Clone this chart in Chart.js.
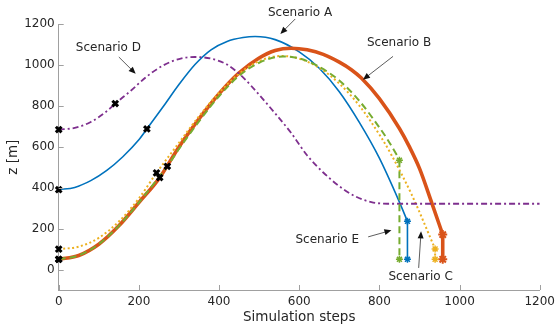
<!DOCTYPE html>
<html>
<head>
<meta charset="utf-8">
<script src="https://cdn.jsdelivr.net/npm/chart.js@4/dist/chart.umd.min.js"></script>
<style>
  html, body { margin: 0; padding: 0; background: #fff; }
  #wrap { width: 560px; height: 327px; }
</style>
</head>
<body>
<div id="wrap"><canvas id="chart"></canvas></div>
<script>
// tick values
const xTicks = [0, 200, 400, 600, 800, 1000, 1200];
const yTicks = [0, 200, 400, 600, 800, 1000, 1200];

// Scenario A
const stepsA = [0, 40, 80, 120, 160, 200, 220, 260, 300, 340, 380, 420, 460, 490, 540, 600, 650, 700, 750, 800, 850, 870];
const zA = [391, 402, 435, 485, 552, 635, 688, 795, 905, 1003, 1075, 1116, 1135, 1140, 1125, 1065, 985, 870, 720, 545, 330, 236];
// Scenario B
const stepsB = [0, 50, 100, 150, 200, 252, 300, 350, 400, 450, 500, 540, 580, 620, 660, 700, 730, 755, 800, 850, 875, 900, 930, 958];
const zB = [50, 69, 124, 214, 328, 450, 600, 737, 860, 962, 1035, 1072, 1083, 1075, 1053, 1015, 978, 937, 836, 690, 600, 495, 330, 171];
// Scenario C
const stepsC = [0, 50, 100, 150, 200, 244, 300, 350, 400, 450, 500, 555, 600, 650, 700, 750, 805, 830, 880, 939];
const zC = [100, 112, 155, 235, 348, 473, 620, 750, 865, 958, 1020, 1045, 1032, 987, 910, 802, 645, 561, 369, 101];
// Scenario D
const stepsD = [0, 40, 80, 120, 141, 180, 220, 260, 300, 340, 380, 420, 460, 500, 540, 580, 620, 660, 700, 740, 780, 820, 1200];
const zD = [685, 693, 722, 775, 812, 875, 945, 998, 1030, 1040, 1032, 1003, 940, 855, 764, 668, 558, 475, 408, 358, 330, 322, 322];
// Scenario E
const stepsE = [0, 50, 100, 150, 200, 250, 271, 300, 350, 400, 450, 500, 560, 600, 648, 700, 750, 800, 821, 842, 850];
const zE = [50, 69, 124, 214, 328, 452, 505, 590, 725, 848, 948, 1012, 1043, 1033, 994, 925, 825, 695, 634, 565, 535];

// indices of the black cross markers on each curve
const marksA = [0, 6];
const marksB = [0, 5];
const marksC = [0, 5];
const marksD = [0, 4];
const marksE = [0, 6];

// height the trajectories drop to at the end (null = no drop)
const dropA = 50, dropB = 50, dropC = 50, dropD = null, dropE = 50;

const font = "'DejaVu Sans', sans-serif";
const textColor = '#262626';
const axisColor = '#a0a0a0';

const scenarios = [
  { name: 'A', steps: stepsA, z: zA, marks: marksA, drop: dropA, color: '#0072BD', width: 1.6, dash: [], order: 5 },
  { name: 'B', steps: stepsB, z: zB, marks: marksB, drop: dropB, color: '#D95319', width: 3.6, dash: [], order: 4 },
  { name: 'C', steps: stepsC, z: zC, marks: marksC, drop: dropC, color: '#EDB120', width: 2, dash: [2, 2.5], order: 3 },
  { name: 'D', steps: stepsD, z: zD, marks: marksD, drop: dropD, color: '#7E2F8E', width: 1.8, dash: [6, 3, 2, 3], order: 2 },
  { name: 'E', steps: stepsE, z: zE, marks: marksE, drop: dropE, color: '#77AC30', width: 2, dash: [7, 4], order: 1 }
];

const datasets = [];
scenarios.forEach(function (s) {
  datasets.push({
    label: 'Scenario ' + s.name,
    data: s.steps.map((x, i) => ({ x: x, y: s.z[i] })),
    showLine: true,
    borderColor: s.color,
    borderWidth: s.width,
    borderDash: s.dash,
    cubicInterpolationMode: 'monotone',
    tension: 0.4,
    pointRadius: 0,
    order: s.order
  });
  if (s.drop !== null) {
    const last = s.steps.length - 1;
    datasets.push({
      label: 'Scenario ' + s.name + ' end',
      data: [{ x: s.steps[last], y: s.z[last] }, { x: s.steps[last], y: s.drop }],
      showLine: true,
      borderColor: s.color,
      borderWidth: s.width,
      borderDash: s.dash,
      pointStyle: 'star',
      pointRadius: s.width > 3 ? 4.5 : 3.5,
      pointBorderColor: s.color,
      pointBorderWidth: s.width > 3 ? 2 : 1.5,
      order: s.order
    });
  }
});

// black crosses on top of everything
datasets.push({
  label: 'markers',
  data: scenarios.flatMap(s => s.marks.map(i => ({ x: s.steps[i], y: s.z[i] }))),
  showLine: false,
  pointStyle: 'crossRot',
  pointRadius: 4,
  pointBorderColor: '#000',
  pointBorderWidth: 3,
  clip: false,
  order: 0
});

// text labels with arrows, in data coordinates
const notes = [
  { text: 'Scenario A', at: [602, 1255], from: [590, 1226], to: [553, 1153] },
  { text: 'Scenario B', at: [849, 1109], from: [834, 1043], to: [759, 929] },
  { text: 'Scenario D', at: [124, 1084], from: [150, 1040], to: [192, 958] },
  { text: 'Scenario E', at: [670, 143], from: [772, 160], to: [830, 192] },
  { text: 'Scenario C', at: [903, -38], from: [898, 8], to: [904, 187] }
];

function drawArrow(ctx, x1, y1, x2, y2) {
  const a = Math.atan2(y2 - y1, x2 - x1);
  const len = 7, w = 3;
  ctx.beginPath();
  ctx.moveTo(x1, y1);
  ctx.lineTo(x2 - len * 0.7 * Math.cos(a), y2 - len * 0.7 * Math.sin(a));
  ctx.stroke();
  ctx.beginPath();
  ctx.moveTo(x2, y2);
  ctx.lineTo(x2 - len * Math.cos(a) + w * Math.sin(a), y2 - len * Math.sin(a) - w * Math.cos(a));
  ctx.lineTo(x2 - len * Math.cos(a) - w * Math.sin(a), y2 - len * Math.sin(a) + w * Math.cos(a));
  ctx.closePath();
  ctx.fill();
}

const extras = {
  id: 'extras',
  afterDraw(chart) {
    const ctx = chart.ctx;
    const xs = chart.scales.x, ys = chart.scales.y;
    const area = chart.chartArea;
    ctx.save();
    // inward tick marks
    ctx.strokeStyle = axisColor;
    ctx.lineWidth = 1;
    ctx.beginPath();
    xTicks.forEach(v => {
      const px = Math.round(xs.getPixelForValue(v)) + 0.5;
      ctx.moveTo(px, area.bottom);
      ctx.lineTo(px, area.bottom - 5);
    });
    yTicks.forEach(v => {
      const py = Math.round(ys.getPixelForValue(v)) + 0.5;
      ctx.moveTo(area.left, py);
      ctx.lineTo(area.left + 5, py);
    });
    ctx.stroke();
    // annotations
    ctx.font = '12px ' + font;
    ctx.textAlign = 'center';
    ctx.textBaseline = 'middle';
    notes.forEach(n => {
      ctx.fillStyle = textColor;
      ctx.fillText(n.text, xs.getPixelForValue(n.at[0]), ys.getPixelForValue(n.at[1]));
      ctx.strokeStyle = '#333';
      ctx.fillStyle = '#111';
      ctx.lineWidth = 0.8;
      drawArrow(ctx,
        xs.getPixelForValue(n.from[0]), ys.getPixelForValue(n.from[1]),
        xs.getPixelForValue(n.to[0]), ys.getPixelForValue(n.to[1]));
    });
    ctx.restore();
  }
};

new Chart(document.getElementById('chart'), {
  type: 'scatter',
  data: { datasets: datasets },
  options: {
    responsive: true,
    maintainAspectRatio: false,
    animation: false,
    layout: { padding: { top: 24.3, right: 17, bottom: 0, left: 0 } },
    plugins: { legend: { display: false }, tooltip: { enabled: false } },
    scales: {
      x: {
        type: 'linear', min: 0, max: 1200,
        afterBuildTicks: s => { s.ticks = xTicks.map(v => ({ value: v })); },
        afterFit: s => { s.height = 37; },
        grid: { display: false, drawTicks: false },
        border: { display: true, color: axisColor, width: 1 },
        ticks: { padding: 5, color: textColor, font: { family: font, size: 12 }, maxRotation: 0, callback: v => String(v) },
        title: { display: true, text: 'Simulation steps', color: textColor, font: { family: font, size: 13.5 }, padding: { top: 0, bottom: 1 } }
      },
      y: {
        type: 'linear', min: -100, max: 1200,
        afterBuildTicks: s => { s.ticks = yTicks.map(v => ({ value: v })); },
        afterFit: s => { s.width = 58.7; },
        grid: { display: false, drawTicks: false },
        border: { display: true, color: axisColor, width: 1 },
        ticks: { padding: 4, color: textColor, font: { family: font, size: 12 }, callback: v => String(v) },
        title: { display: true, text: 'z [m]', color: textColor, font: { family: font, size: 13.5 }, padding: { top: 5, bottom: 0 } }
      }
    }
  },
  plugins: [extras]
});
</script>
</body>
</html>
